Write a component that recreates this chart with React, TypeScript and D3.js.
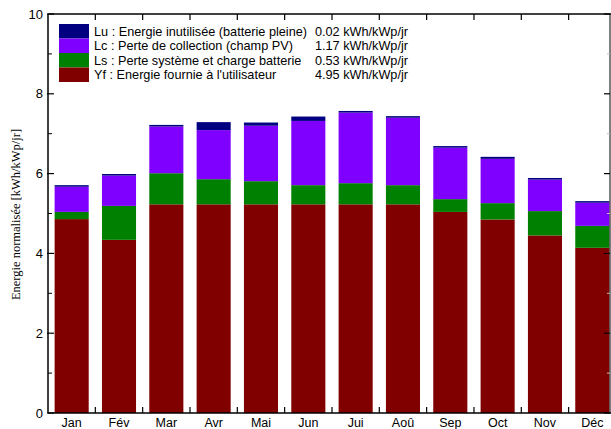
import React from "react";
import * as d3 from "d3";

const months = ["Jan", "Fév", "Mar", "Avr", "Mai", "Jun", "Jui", "Aoû", "Sep", "Oct", "Nov", "Déc"];
const Yf = [4.86, 4.34, 5.23, 5.23, 5.23, 5.23, 5.23, 5.23, 5.04, 4.85, 4.45, 4.14];
const Ls = [0.18, 0.85, 0.78, 0.63, 0.58, 0.48, 0.53, 0.48, 0.32, 0.41, 0.61, 0.55];
const Lc = [0.63, 0.76, 1.17, 1.23, 1.39, 1.61, 1.77, 1.69, 1.29, 1.11, 0.79, 0.58];
const Lu = [0.04, 0.04, 0.04, 0.20, 0.08, 0.11, 0.04, 0.04, 0.04, 0.05, 0.04, 0.04];
const yTicks = [0, 2, 4, 6, 8, 10];
const yMinor = [1, 3, 5, 7, 9];

const seriesKeys = ["Yf", "Ls", "Lc", "Lu"];
const seriesColors: Record<string, string> = { Yf: "#800000", Ls: "#008000", Lc: "#8000ff", Lu: "#000080" };
const legendItems = [
  { key: "Lu", label: "Lu : Energie inutilisée (batterie pleine)", value: "0.02 kWh/kWp/jr" },
  { key: "Lc", label: "Lc : Perte de collection (champ PV)", value: "1.17 kWh/kWp/jr" },
  { key: "Ls", label: "Ls : Perte système et charge batterie", value: "0.53 kWh/kWp/jr" },
  { key: "Yf", label: "Yf : Energie fournie à l'utilisateur", value: "4.95 kWh/kWp/jr" },
];

export default function App() {
  const W = 611, H = 429;
  const left = 48, right = 610, top = 14, bottom = 413;
  const x = d3.scaleBand<string>().domain(months).range([left, left + 12 * 47.33]).padding(0);
  const y = d3.scaleLinear().domain([0, 10]).range([bottom, top]);
  const bw = x.bandwidth() * 0.72;

  const table = months.map((m, i) => ({ month: m, Yf: Yf[i], Ls: Ls[i], Lc: Lc[i], Lu: Lu[i] }));
  const stacked = d3.stack<any>().keys(seriesKeys)(table);

  const sans = "'Liberation Sans', Arial, sans-serif";
  const boundaries = months.slice(1).map((m) => x(m)!);

  return (
    <svg width={W} height={H} style={{ position: "absolute", left: 0, top: 0 }} fontFamily={sans}>
      <rect width={W} height={H} fill="#fff" />
      {stacked.map((s) => (
        <g key={s.key}>
          {s.map((d, i) => (
            <rect
              key={i}
              x={x(months[i])! + (x.bandwidth() - bw) / 2}
              y={y(d[1])}
              width={bw}
              height={Math.max(0, y(d[0]) - y(d[1]))}
              fill={seriesColors[s.key]}
            />
          ))}
        </g>
      ))}
      {/* frame */}
      <line x1={left} x2={left} y1={top} y2={bottom} stroke="#000" strokeWidth={1.5} />
      <line x1={left} x2={W} y1={bottom} y2={bottom} stroke="#000" strokeWidth={1.5} />
      <line x1={left} x2={W} y1={top} y2={top} stroke="#000" strokeWidth={1.5} />
      <line x1={right} x2={right} y1={top} y2={bottom} stroke="#000" strokeWidth={1} />
      {/* left ticks */}
      {yTicks.map((t) => (
        <g key={"yt" + t}>
          <line x1={left - 1} x2={left + 6} y1={y(t)} y2={y(t)} stroke="#000" strokeWidth={1.2} />
          <text x={left - 5} y={y(t)} dy="0.35em" textAnchor="end" fontSize={13}>{t}</text>
          <line x1={right - 6} x2={right} y1={y(t)} y2={y(t)} stroke="#000" strokeWidth={1.2} />
        </g>
      ))}
      {yMinor.map((t) => (
        <g key={"ym" + t}>
          <line x1={left} x2={left + 4} y1={y(t)} y2={y(t)} stroke="#000" strokeWidth={1} />
          <line x1={right - 3} x2={right} y1={y(t)} y2={y(t)} stroke="#bbb" strokeWidth={1} />
        </g>
      ))}
      {/* x ticks */}
      {boundaries.map((bx, i) => (
        <g key={"xb" + i}>
          <line x1={bx} x2={bx} y1={bottom} y2={bottom - 6} stroke="#000" strokeWidth={1.2} />
          <line x1={bx} x2={bx} y1={top} y2={top + 6} stroke="#000" strokeWidth={1.2} />
        </g>
      ))}
      {months.map((m) => (
        <text key={m} x={x(m)! + x.bandwidth() / 2} y={bottom + 14} textAnchor="middle" fontSize={12.5}>{m}</text>
      ))}
      {/* y label */}
      <text
        transform={`translate(16, ${(127 + 302) / 2}) rotate(-90)`}
        textAnchor="middle"
        fontSize={12.5}
        fontFamily="'Liberation Serif', 'Times New Roman', serif"
        dy="0.35em"
      >
        Energie normalisée [kWh/kWp/jr]
      </text>
      {/* legend */}
      {legendItems.map((it, i) => (
        <g key={it.key}>
          <rect x={59} y={24 + i * 14.5} width={30} height={14.5} fill={seriesColors[it.key]} />
          <text x={94} y={24 + i * 14.5 + 11.8} fontSize={12.7}>{it.label}</text>
          <text x={408} y={24 + i * 14.5 + 11.8} fontSize={12.7} textAnchor="end">{it.value}</text>
        </g>
      ))}
    </svg>
  );
}
